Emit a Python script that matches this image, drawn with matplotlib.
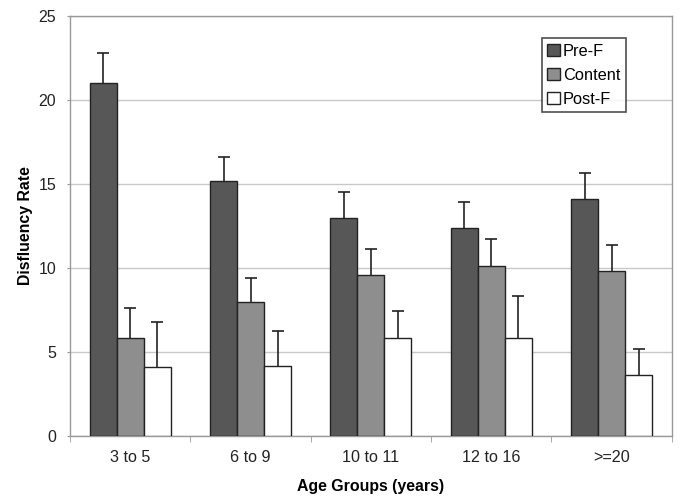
import numpy as np
import matplotlib.pyplot as plt

plt.rcParams['font.family'] = ['Liberation Sans', 'DejaVu Sans']

groups = ['3 to 5', '6 to 9', '10 to 11', '12 to 16', '>=20']
series = ['Pre-F', 'Content', 'Post-F']
pre_f = [21.0, 15.2, 13.0, 12.4, 14.1]
content = [5.8, 8.0, 9.6, 10.1, 9.8]
post_f = [4.1, 4.15, 5.8, 5.8, 3.6]
pre_err = [1.8, 1.4, 1.5, 1.55, 1.55]
content_err = [1.8, 1.4, 1.5, 1.6, 1.55]
post_err = [2.7, 2.1, 1.65, 2.5, 1.55]

colors = ['#575757', '#8e8e8e', '#ffffff']
values = [pre_f, content, post_f]
errors = [pre_err, content_err, post_err]

fig = plt.figure(figsize=(6.8, 5.01), dpi=100)
ax = fig.add_axes([0.103, 0.130, 0.885, 0.838])

x = np.arange(len(groups))
w = 0.224
for i in range(3):
	bars = ax.bar(x + (i - 1) * w, values[i], w, color=colors[i], edgecolor='#222222',
		linewidth=1.0, label=series[i], zorder=3,
		yerr=[np.zeros(len(groups)), errors[i]],
		error_kw=dict(ecolor='#222222', elinewidth=1.2, capsize=4, capthick=1.2, zorder=4))
	# only the upper cap, like the original
	caps = bars.errorbar.lines[1]
	caps[0].set_visible(False)

ax.set_xlim(-0.5, len(groups) - 0.5)
ax.set_ylim(0, 25)
ax.set_yticks([0, 5, 10, 15, 20, 25])
ax.yaxis.grid(True, color='#c8c8c8', linewidth=1.0, zorder=0)

ax.set_xticks(x)
ax.set_xticklabels(groups)
ax.set_xticks(np.arange(len(groups) + 1) - 0.5, minor=True)
ax.tick_params(axis='x', which='major', length=0, labelsize=11.6, pad=10, colors='#222222')
ax.tick_params(axis='x', which='minor', length=4, color='#999999')
ax.tick_params(axis='y', length=2, labelsize=11.5, colors='#222222', color='#999999', pad=8)

for s in ax.spines.values():
	s.set_color('#999999')
	s.set_linewidth(1.0)

ax.set_xlabel('Age Groups (years)', fontsize=11.4, fontweight='bold', labelpad=10)
ax.set_ylabel('Disfluency Rate', fontsize=11.4, fontweight='bold', labelpad=4)

leg = ax.legend(loc='upper right', bbox_to_anchor=(0.924, 0.948), fontsize=11.8,
	frameon=True, fancybox=False, edgecolor='#222222', handlelength=0.75,
	handleheight=0.75, handletextpad=0.2, borderpad=0.35, labelspacing=0.55,
	borderaxespad=0)
leg.get_frame().set_linewidth(1.2)

fig.savefig('out.png', dpi=100)
